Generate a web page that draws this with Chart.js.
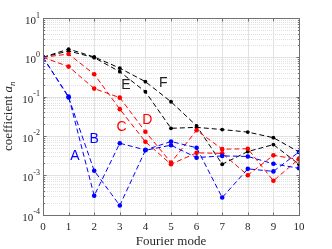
<!DOCTYPE html>
<html>
<head>
<meta charset="utf-8">
<script src="https://cdn.jsdelivr.net/npm/chart.js@4.4.1/dist/chart.umd.min.js"></script>
<style>
html,body{margin:0;padding:0;background:#fff;}
#wrap{width:332px;height:249px;}
</style>
</head>
<body>
<div id="wrap"><canvas id="c" width="332" height="249"></canvas></div>
<script>
// ---- data ----
const modes = [0, 1, 2, 3, 4, 5, 6, 7, 8, 9, 10];
const seriesA = [1, 0.1, 3.0e-4, 6.5e-3, 4.4e-3, 7.2e-3, 5.0e-3, 2.7e-4, 1.45e-3, 1.25e-3, 3.9e-3];
const seriesB = [1, 0.095, 1.3e-3, 1.7e-4, 4.3e-3, 5.8e-3, 2.8e-3, 3.1e-3, 3.0e-3, 1.95e-3, 1.5e-3];
const seriesC = [1, 1.21, 0.37, 0.048, 7.1e-3, 1.9e-3, 3.7e-3, 3.6e-3, 1.0e-3, 3.2e-3, 2.5e-3];
const seriesD = [1, 0.58, 0.16, 0.094, 0.0128, 2.1e-3, 0.0139, 4.6e-3, 4.7e-3, 7.2e-4, 2.6e-3];
const seriesE = [1, 1.45, 0.98, 0.43, 0.133, 0.0156, 0.0165, 0.0145, 0.0125, 9.0e-3, 3.9e-3];
const seriesF = [1, 1.62, 1.02, 0.53, 0.24, 0.074, 0.018, 1.9e-3, 4.0e-3, 6.0e-3, 1.9e-3];
const xTickLabels = ['0','1','2','3','4','5','6','7','8','9','10'];
const yTickValues = [10, 1, 0.1, 0.01, 0.001, 0.0001];
const yTickExps = ['1','0','-1','-2','-3','-4'];
const seriesNames = ['A','B','C','D','E','F'];
// label anchor points in data coordinates
const labelX = [1.25, 2.0, 3.07, 4.07, 3.24, 4.7];
const labelY = [3.1e-3, 8.3e-3, 0.0171, 0.0254, 0.197, 0.218];

const BLUE = '#0000ff', RED = '#ff0000', BLACK = '#000000';
const colors = [BLUE, BLUE, RED, RED, BLACK, BLACK];
const allSeries = [seriesA, seriesB, seriesC, seriesD, seriesE, seriesF];

const datasets = allSeries.map((s, k) => ({
  label: seriesNames[k],
  data: modes.map((m, i) => ({x: m, y: s[i]})),
  borderColor: colors[k],
  backgroundColor: colors[k],
  borderWidth: 1,
  borderDash: [5, 3],
  pointRadius: k >= 4 ? 1.9 : 2.3,
  pointBorderWidth: 0,
  pointBackgroundColor: colors[k],
  tension: 0,
  fill: false
}));

const SERIF = '"Liberation Serif", "DejaVu Serif", serif';
const SANS = '"Liberation Sans", Arial, sans-serif';

const decor = {
  id: 'decor',
  beforeDatasetsDraw(chart) {
    const {ctx, chartArea: a, scales: {x, y}} = chart;
    ctx.save();
    ctx.lineWidth = 1;
    // minor horizontal grid (dotted)
    ctx.strokeStyle = '#e0e0e0';
    ctx.setLineDash([1, 1]);
    for (let e = -4; e < 1; e++) {
      for (let m = 2; m < 10; m++) {
        const py = Math.round(y.getPixelForValue(m * Math.pow(10, e))) + 0.5;
        ctx.beginPath(); ctx.moveTo(a.left, py); ctx.lineTo(a.right, py); ctx.stroke();
      }
    }
    ctx.setLineDash([]);
    ctx.strokeStyle = '#e2e2e2';
    yTickValues.forEach(v => {
      const py = Math.round(y.getPixelForValue(v)) + 0.5;
      ctx.beginPath(); ctx.moveTo(a.left, py); ctx.lineTo(a.right, py); ctx.stroke();
    });
    modes.forEach(m => {
      const px = Math.round(x.getPixelForValue(m)) + 0.5;
      ctx.beginPath(); ctx.moveTo(px, a.top); ctx.lineTo(px, a.bottom); ctx.stroke();
    });
    ctx.restore();
  },
  afterDraw(chart) {
    const {ctx, chartArea: a, scales: {x, y}} = chart;
    ctx.save();
    // frame
    ctx.strokeStyle = '#707070';
    ctx.lineWidth = 1;
    const L = Math.round(a.left) + 0.5, R = Math.round(a.right) + 0.5;
    const T = Math.round(a.top) + 0.5, B = Math.round(a.bottom) + 0.5;
    ctx.strokeRect(L, T, R - L, B - T);
    // ticks
    ctx.beginPath();
    yTickValues.forEach(v => {
      const py = Math.round(y.getPixelForValue(v)) + 0.5;
      ctx.moveTo(L, py); ctx.lineTo(L + 3, py);
      ctx.moveTo(R, py); ctx.lineTo(R - 3, py);
    });
    for (let e = -4; e < 1; e++) {
      for (let m = 2; m < 10; m++) {
        const py = Math.round(y.getPixelForValue(m * Math.pow(10, e))) + 0.5;
        ctx.moveTo(L, py); ctx.lineTo(L + 1.5, py);
        ctx.moveTo(R, py); ctx.lineTo(R - 1.5, py);
      }
    }
    modes.forEach(m => {
      const px = Math.round(x.getPixelForValue(m)) + 0.5;
      ctx.moveTo(px, B); ctx.lineTo(px, B - 3);
      ctx.moveTo(px, T); ctx.lineTo(px, T + 3);
    });
    ctx.stroke();

    // y tick labels 10^n
    ctx.fillStyle = '#262626';
    ctx.textBaseline = 'alphabetic';
    ctx.textAlign = 'left';
    yTickValues.forEach((v, i) => {
      const py = y.getPixelForValue(v);
      ctx.font = '8px ' + SERIF;
      const sw = ctx.measureText(yTickExps[i]).width;
      ctx.font = '11px ' + SERIF;
      const bw = ctx.measureText('10').width;
      const right = a.left - 3;
      ctx.fillText('10', right - sw - bw, py + 6);
      ctx.font = '8px ' + SERIF;
      ctx.fillText(yTickExps[i], right - sw, py - 0.5);
    });
    // x tick labels
    ctx.font = '11px ' + SERIF;
    ctx.textAlign = 'center';
    modes.forEach((m, i) => {
      ctx.fillText(xTickLabels[i], x.getPixelForValue(m), a.bottom + 15);
    });
    // x title
    ctx.font = '13px ' + SERIF;
    ctx.fillText('Fourier mode', (a.left + a.right) / 2, 245);
    // y title
    ctx.save();
    ctx.translate(12, (a.top + a.bottom) / 2);
    ctx.rotate(-Math.PI / 2);
    ctx.textAlign = 'left';
    ctx.font = '13px ' + SERIF;
    const p1 = 'coefficient ';
    const w1 = ctx.measureText(p1).width;
    ctx.font = 'italic 13px ' + SERIF;
    const w2 = ctx.measureText('a').width;
    ctx.font = 'italic 9px ' + SERIF;
    const w3 = ctx.measureText('n').width;
    let sx = -(w1 + w2 + w3) / 2;
    ctx.font = '13px ' + SERIF;
    ctx.fillText(p1, sx, 0);
    ctx.font = 'italic 13px ' + SERIF;
    ctx.fillText('a', sx + w1, 0);
    ctx.font = 'italic 9px ' + SERIF;
    ctx.fillText('n', sx + w1 + w2, 2.5);
    ctx.restore();

    // series labels
    ctx.font = '14px ' + SANS;
    ctx.textAlign = 'center';
    ctx.textBaseline = 'middle';
    seriesNames.forEach((n, k) => {
      ctx.fillStyle = colors[k] === BLACK ? '#222' : colors[k];
      ctx.fillText(n, x.getPixelForValue(labelX[k]), y.getPixelForValue(labelY[k]));
    });
    ctx.restore();
  }
};

new Chart(document.getElementById('c'), {
  type: 'line',
  data: {datasets},
  options: {
    responsive: false,
    animation: false,
    devicePixelRatio: 1,
    layout: {padding: {left: 0, right: 33, top: 18, bottom: 0}},
    plugins: {legend: {display: false}, tooltip: {enabled: false}},
    scales: {
      x: {
        type: 'linear', min: 0, max: 10,
        ticks: {display: false, stepSize: 1},
        grid: {display: false}, border: {display: false},
        afterFit: s => { s.height = 34.5; }
      },
      y: {
        type: 'logarithmic', min: 1e-4, max: 10,
        ticks: {display: false},
        grid: {display: false}, border: {display: false},
        afterFit: s => { s.width = 43; }
      }
    }
  },
  plugins: [decor]
});
</script>
</body>
</html>
